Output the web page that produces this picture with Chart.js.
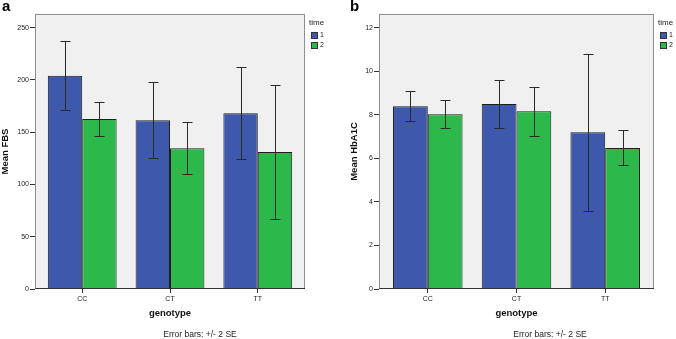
<!DOCTYPE html>
<html><head><meta charset="utf-8">
<script src="https://cdn.jsdelivr.net/npm/chart.js@4/dist/chart.umd.min.js"></script>
<style>
html,body{margin:0;padding:0;background:#fff;width:676px;height:339px;overflow:hidden;font-family:"Liberation Sans",Arial,sans-serif}
.panel{position:absolute;top:0;height:339px}
#pa{left:0;width:336px}
#pb{left:336px;width:340px}
.lbl{position:absolute;top:-3px;font-weight:bold;font-size:15px;color:#000;font-family:"Liberation Sans",Arial,sans-serif}
</style></head><body>
<div class="panel" id="pa"><canvas id="ca" width="336" height="339"></canvas></div>
<div class="panel" id="pb"><canvas id="cb" width="340" height="339"></canvas></div>
<div class="lbl" style="left:2px">a</div>
<div class="lbl" style="left:350px">b</div>
<script>
// ---- data ----
const genotypes = ['CC', 'CT', 'TT'];
const timeLabels = ['1', '2'];

const fbsTime1 = [204, 161.5, 168];
const fbsTime2 = [162.5, 134.5, 131];
const fbsTime1Low = [171.4, 125, 124];
const fbsTime1High = [237, 198, 212.3];
const fbsTime2Low = [146.4, 110.3, 66.8];
const fbsTime2High = [178.4, 159.6, 195];

const hbaTime1 = [8.40, 8.50, 7.20];
const hbaTime2 = [8.03, 8.17, 6.48];
const hbaTime1Low = [7.71, 7.40, 3.59];
const hbaTime1High = [9.09, 9.62, 10.82];
const hbaTime2Low = [7.38, 7.04, 5.71];
const hbaTime2High = [8.69, 9.29, 7.31];

const fbsTicks = ['0', '50', '100', '150', '200', '250'];
const hbaTicks = ['0', '2', '4', '6', '8', '10', '12'];
const caption = 'Error bars: +/- 2 SE';

// ---- styling ----
const FONT = '"Liberation Sans", Arial, sans-serif';
const BLUE = '#3e58ac';
const GREEN = '#2db84b';

// category scale with a little extra outer margin (SPSS-like spacing)
class PaddedCategory extends Chart.CategoryScale {
  buildTicks() {
    const t = super.buildTicks();
    const m = this.options.outerMargin || 0;
    this._startValue -= m;
    this._valueRange += 2 * m;
    return t;
  }
}
PaddedCategory.id = 'paddedCategory';
PaddedCategory.defaults = Chart.CategoryScale.defaults;
Chart.register(PaddedCategory);

const panelPlugin = {
  id: 'panel',
  beforeDraw(chart) {
    const a = chart.chartArea, ctx = chart.ctx;
    ctx.save();
    ctx.fillStyle = '#f0f0f0';
    ctx.fillRect(a.left, a.top, a.right - a.left, a.bottom - a.top);
    ctx.restore();
  },
  afterDatasetsDraw(chart) {
    const ctx = chart.ctx, a = chart.chartArea, ys = chart.scales.y;
    const err = chart.options.plugins.panel.errors;
    ctx.save();
    ctx.strokeStyle = '#2a2a2a';
    ctx.lineWidth = 1;
    chart.data.datasets.forEach((ds, i) => {
      const meta = chart.getDatasetMeta(i);
      meta.data.forEach((bar, j) => {
        const x = Math.round(bar.x) + 0.5;
        const yl = Math.round(ys.getPixelForValue(err[i].low[j])) + 0.5;
        const yh = Math.round(ys.getPixelForValue(err[i].high[j])) + 0.5;
        ctx.beginPath();
        ctx.moveTo(x, yl); ctx.lineTo(x, yh);
        ctx.moveTo(x - 5, yl); ctx.lineTo(x + 5, yl);
        ctx.moveTo(x - 5, yh); ctx.lineTo(x + 5, yh);
        ctx.stroke();
      });
    });
    // frame
    ctx.strokeStyle = '#8f8f8f';
    ctx.strokeRect(a.left + 0.5, a.top + 0.5, a.right - a.left - 1, a.bottom - a.top - 1);
    ctx.strokeStyle = '#333';
    ctx.beginPath();
    ctx.moveTo(a.left, a.bottom - 0.5); ctx.lineTo(a.right, a.bottom - 0.5);
    ctx.stroke();
    ctx.restore();
  },
  afterDraw(chart) {
    const ctx = chart.ctx, a = chart.chartArea;
    const o = chart.options.plugins.panel;
    ctx.save();
    // legend
    ctx.fillStyle = '#222';
    ctx.textBaseline = 'middle';
    ctx.textAlign = 'left';
    ctx.font = '8px ' + FONT;
    ctx.fillText(o.legendTitle, a.right + 4, 23);
    ctx.font = '7px ' + FONT;
    chart.data.datasets.forEach((ds, i) => {
      const y = 32 + i * 10;
      ctx.fillStyle = ds.backgroundColor;
      ctx.fillRect(a.right + 6.5, y + 0.5, 6, 6);
      ctx.strokeStyle = '#333';
      ctx.strokeRect(a.right + 6.5, y + 0.5, 6, 6);
      ctx.fillStyle = '#222';
      ctx.fillText(ds.label, a.right + 15, y + 3.5);
    });
    // caption
    ctx.font = '8.5px ' + FONT;
    ctx.textAlign = 'center';
    ctx.fillStyle = '#222';
    ctx.fillText(caption, o.captionX, 335);
    ctx.restore();
  }
};

function makeChart(id, cfg) {
  return new Chart(document.getElementById(id), {
    type: 'bar',
    data: {
      labels: genotypes,
      datasets: [
        { label: timeLabels[0], data: cfg.d1, backgroundColor: BLUE, borderColor: '#1e1e1e', borderWidth: 1 },
        { label: timeLabels[1], data: cfg.d2, backgroundColor: GREEN, borderColor: '#1e1e1e', borderWidth: 1 }
      ]
    },
    options: {
      responsive: false,
      animation: false,
      devicePixelRatio: 1,
      layout: { padding: cfg.padding },
      datasets: { bar: { categoryPercentage: 0.784, barPercentage: 1.0 } },
      plugins: {
        legend: { display: false },
        tooltip: { enabled: false },
        panel: { errors: cfg.errors, legendTitle: 'time', captionX: cfg.captionX }
      },
      scales: {
        x: {
          type: 'paddedCategory',
          outerMargin: cfg.outerMargin,
          grid: { display: true, drawOnChartArea: false, offset: false, tickLength: 4, color: '#333', tickColor: '#333' },
          border: { display: false },
          ticks: { font: { size: 7, family: FONT }, color: '#222', padding: 2, maxRotation: 0 },
          title: { display: true, text: 'genotype', font: { size: 9.5, weight: 'bold', family: FONT }, color: '#111', padding: 0 },
          afterFit(s) { s.height = 30; }
        },
        y: {
          min: 0, max: cfg.max,
          grid: { display: true, drawOnChartArea: false, tickLength: 5, color: '#333', tickColor: '#333' },
          border: { display: false },
          ticks: {
            stepSize: cfg.step, includeBounds: false,
            font: { size: 7, family: FONT }, color: '#222', padding: 1,
            callback: (v, i) => cfg.tickLabels[i]
          },
          title: { display: true, text: cfg.yTitle, font: { size: 9.5, weight: 'bold', family: FONT }, color: '#111', padding: 0 },
          afterFit(s) { s.width = cfg.yWidth; }
        }
      }
    },
    plugins: [panelPlugin]
  });
}

makeChart('ca', {
  d1: fbsTime1, d2: fbsTime2,
  errors: [{ low: fbsTime1Low, high: fbsTime1High }, { low: fbsTime2Low, high: fbsTime2High }],
  max: 263, step: 50, tickLabels: fbsTicks, yTitle: 'Mean FBS',
  yWidth: 35, padding: { left: 0, right: 31, top: 14, bottom: 20 }, captionX: 200,
  outerMargin: 0.038
});
makeChart('cb', {
  d1: hbaTime1, d2: hbaTime2,
  errors: [{ low: hbaTime1Low, high: hbaTime1High }, { low: hbaTime2Low, high: hbaTime2High }],
  max: 12.64, step: 2, tickLabels: hbaTicks, yTitle: 'Mean HbA1C',
  yWidth: 30, padding: { left: 13, right: 22, top: 14, bottom: 20 }, captionX: 214,
  outerMargin: 0.05
});
</script>
</body></html>
